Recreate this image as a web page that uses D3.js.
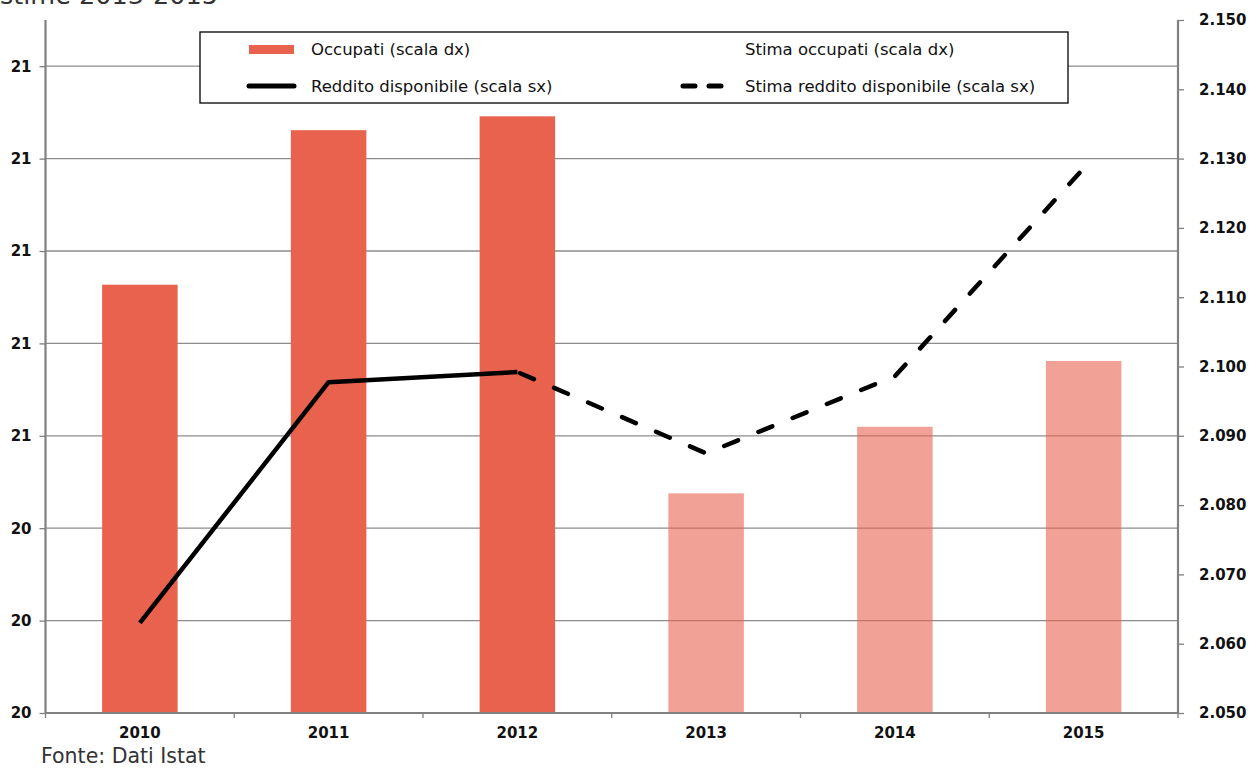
<!DOCTYPE html>
<html><head><meta charset="utf-8">
<script src="https://cdn.jsdelivr.net/npm/d3@7"></script>
<style>
body{margin:0;background:#fff;}
svg{display:block;font-family:"DejaVu Sans",sans-serif;}
</style></head>
<body><svg id="chart" width="1254" height="768"></svg>
<script>
const years = ["2010","2011","2012","2013","2014","2015"];
const occupati = [2111.8, 2134.1, 2136.1, 2081.7, 2091.3, 2100.8];
const isEstimate = [false, false, false, true, true, true];
const reddito = [20.195, 20.716, 20.738, 20.562, 20.729, 21.179];
const leftTicks = [20.0, 20.2, 20.4, 20.6, 20.8, 21.0, 21.2, 21.4];
const rightTicks = [2050, 2060, 2070, 2080, 2090, 2100, 2110, 2120, 2130, 2140, 2150];
const legendLabels = ["Occupati (scala dx)", "Stima occupati (scala dx)", "Reddito disponibile (scala sx)", "Stima reddito disponibile (scala sx)"];
const titleText = "stime 2013-2015";
const sourceText = "Fonte: Dati Istat";

const svg = d3.select("#chart");
const L = 45.5, R = 1178, T = 20, B = 713;
const FONT = "'DejaVu Sans',sans-serif";

const x = d3.scaleBand().domain(years).range([L, R]).paddingInner(0).paddingOuter(0);
const yL = d3.scaleLinear().domain([20, 21.5]).range([B, T]);
const yR = d3.scaleLinear().domain([2050, 2150]).range([B, T]);
const barW = x.bandwidth() * 0.4;

// gridlines
svg.append("g").selectAll("line").data(leftTicks.slice(1)).join("line")
  .attr("x1", L).attr("x2", R).attr("y1", d => yL(d)).attr("y2", d => yL(d))
  .attr("stroke", "#8c8c8c").attr("stroke-width", 1.3);

// bars
svg.append("g").selectAll("rect").data(years).join("rect")
  .attr("x", (d) => x(d) + (x.bandwidth() - barW) / 2)
  .attr("width", barW)
  .attr("y", (d, i) => yR(occupati[i]))
  .attr("height", (d, i) => B - yR(occupati[i]))
  .attr("fill", "#E8624E")
  .attr("fill-opacity", (d, i) => isEstimate[i] ? 0.6 : 1);

// axes
const fmtL = d3.format(".0f");
const itLocale = d3.formatLocale({decimal: ",", thousands: ".", grouping: [3], currency: ["€", ""]});
const fmtR = itLocale.format(",");

const axL = svg.append("g").attr("transform", `translate(${L},0)`)
  .call(d3.axisLeft(yL).tickValues(leftTicks).tickFormat(fmtL).tickSize(6).tickPadding(8));
const axR = svg.append("g").attr("transform", `translate(${R},0)`)
  .call(d3.axisRight(yR).tickValues(rightTicks).tickFormat(fmtR).tickSize(6).tickPadding(15));
const axB = svg.append("g").attr("transform", `translate(0,${B})`)
  .call(d3.axisBottom(x).tickSize(0).tickPadding(14));
// boundary ticks on x axis
const bounds = years.map(d => x(d)).concat([R]);
svg.append("g").selectAll("line").data(bounds).join("line")
  .attr("x1", d => d).attr("x2", d => d).attr("y1", B).attr("y2", B + 5)
  .attr("stroke", "#808080").attr("stroke-width", 1.3);

[axL, axR, axB].forEach(a => {
  a.select(".domain").attr("stroke", "#808080").attr("stroke-width", 2.2);
  a.selectAll(".tick line").attr("stroke", "#808080").attr("stroke-width", 1.3);
  a.selectAll("text").attr("fill", "#111").attr("font-size", 15).attr("font-weight", 700)
    .attr("font-family", FONT);
});
axL.select(".domain").attr("d", `M0,${T}V${B}`);
axR.select(".domain").attr("d", `M0,${T}V${B}`);
axB.select(".domain").attr("d", `M${L},0H${R}`);
axB.selectAll("text").attr("dy", "0.71em");

// lines
const pts = years.map((d, i) => [x(d) + x.bandwidth() / 2, yL(reddito[i])]);
const line = d3.line();
svg.append("path").attr("d", line(pts.slice(0, 3)))
  .attr("fill", "none").attr("stroke", "#000").attr("stroke-width", 4.5).attr("stroke-linejoin", "round");
svg.append("path").attr("d", line(pts.slice(2)))
  .attr("fill", "none").attr("stroke", "#000").attr("stroke-width", 4.5)
  .attr("stroke-linecap", "round").attr("stroke-linejoin", "round")
  .attr("stroke-dasharray", "15,22").attr("stroke-dashoffset", -3);

// legend
const lg = svg.append("g");
lg.append("rect").attr("x", 200).attr("y", 32).attr("width", 868).attr("height", 71)
  .attr("fill", "#fff").attr("stroke", "#000").attr("stroke-width", 1.3);
lg.append("rect").attr("x", 249).attr("y", 45).attr("width", 45).attr("height", 9).attr("fill", "#E8624E");
lg.append("line").attr("x1", 249).attr("x2", 294).attr("y1", 86).attr("y2", 86)
  .attr("stroke", "#000").attr("stroke-width", 5).attr("stroke-linecap", "round");
lg.append("line").attr("x1", 683).attr("x2", 728).attr("y1", 86).attr("y2", 86)
  .attr("stroke", "#000").attr("stroke-width", 5).attr("stroke-linecap", "round")
  .attr("stroke-dasharray", "12,14");
const lgPos = [[311, 49], [745, 49], [311, 86], [745, 86]];
lg.selectAll("text").data(legendLabels).join("text")
  .attr("x", (d, i) => lgPos[i][0]).attr("y", (d, i) => lgPos[i][1]).attr("dy", "0.35em")
  .attr("font-size", 16.5).attr("font-weight", 400).attr("fill", "#111").attr("font-family", FONT).text(d => d);

// title (cut off) and source
svg.append("text").attr("x", 0).attr("y", 4).attr("font-size", 25.5).attr("fill", "#333")
  .attr("font-family", FONT).text(titleText);
svg.append("text").attr("x", 41).attr("y", 763).attr("font-size", 20.5).attr("fill", "#333")
  .attr("font-family", FONT).text(sourceText);
</script></body></html>
